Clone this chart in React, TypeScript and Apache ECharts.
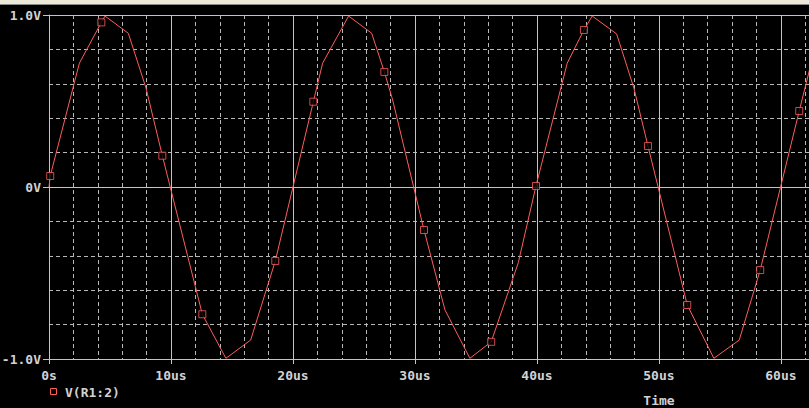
import React, { useEffect, useRef } from "react";
import * as echarts from "echarts";

// Simulation vertices (time in us, voltage in V)
const timeUs = [
  0, 0.1, 2.49, 4.29, 4.59, 6.5, 7.95, 9.29, 12.57, 14.5, 16.53, 18.55,
  21.67, 22.43, 24.56, 26.45, 27.49, 28.17, 30.74, 32.46, 34.5, 36.25, 38.47,
  39.92, 42.48, 43.85, 44.53, 46.53, 47.95, 49.1, 52.32, 54.5, 56.58, 58.3,
  61.5, 62.48,
];
const volts = [
  0, 0.064, 0.72, 0.957, 0.994, 0.894, 0.576, 0.182, -0.74, -0.996, -0.89, -0.43,
  0.496, 0.72, 0.994, 0.894, 0.669, 0.506, -0.25, -0.715, -0.996, -0.9, -0.44,
  0.006, 0.72, 0.913, 0.994, 0.89, 0.574, 0.238, -0.686, -0.996, -0.89, -0.483,
  0.442, 0.72,
];
// indices of vertices that carry a square marker
const markedIdx = [1, 3, 7, 8, 11, 12, 16, 18, 21, 23, 25, 29, 30, 33, 34];

const seriesName = "V(R1:2)";
const xTitle = "Time";

const RED = "#ff5c5c";
const TXT = "#d2d2d2";
const SOLID = "#c4c4c4";
const DASH = "#b8b8b8";
const FONT = "'DejaVu Sans Mono', monospace";

export default function App() {
  const ref = useRef<HTMLDivElement>(null);
  useEffect(() => {
    document.body.style.margin = "0";
    document.body.style.background = "#000";
    const chart = echarts.init(ref.current!, null, { renderer: "svg" });
    const lineData = timeUs.map((t, i) => [t, volts[i]]);
    const markData = markedIdx.map((i) => [timeUs[i], volts[i]]);
    const labelStyle = {
      color: TXT,
      fontFamily: FONT,
      fontWeight: "bold" as const,
      fontSize: 13,
    };
    chart.setOption({
      animation: false,
      backgroundColor: "#000",
      grid: {
        left: 49,
        top: 15,
        width: 760,
        height: 344,
        containLabel: false,
        outerBoundsMode: "none",
      },
      xAxis: [
        {
          type: "value",
          min: 0,
          max: 62.3,
          interval: 2,
          position: "bottom",
          axisLine: { show: false, onZero: false },
          axisTick: { show: false },
          axisLabel: { show: false },
          splitLine: { show: true, lineStyle: { color: DASH, type: [4, 3], width: 1 } },
        },
        {
          type: "value",
          min: 0,
          max: 62.3,
          interval: 10,
          position: "bottom",
          axisLine: { show: true, onZero: false, lineStyle: { color: SOLID, width: 1 } },
          axisTick: { show: true, inside: false, length: 5, lineStyle: { color: SOLID } },
          axisLabel: {
            ...labelStyle,
            margin: 10,
            formatter: (v: number) =>
              Math.abs(v % 10) < 1e-6 ? (v === 0 ? "0s" : `${Math.round(v)}us`) : "",
          },
          splitLine: { show: true, lineStyle: { color: SOLID, width: 1, type: "solid" } },
        },
      ],
      yAxis: [
        {
          type: "value",
          min: -1,
          max: 1,
          interval: 0.2,
          position: "left",
          axisLine: { show: false, onZero: false },
          axisTick: { show: false },
          axisLabel: { show: false },
          splitLine: { show: true, lineStyle: { color: DASH, type: [4, 3], width: 1 } },
        },
        {
          type: "value",
          min: -1,
          max: 1,
          interval: 1,
          position: "left",
          axisLine: { show: true, onZero: false, lineStyle: { color: SOLID, width: 1 } },
          axisTick: { show: true, inside: false, length: 6, lineStyle: { color: SOLID } },
          axisLabel: {
            ...labelStyle,
            margin: 8,
            formatter: (v: number) => (v > 0.5 ? "1.0V" : v < -0.5 ? "-1.0V" : "0V"),
          },
          splitLine: { show: true, lineStyle: { color: SOLID, width: 1, type: "solid" } },
        },
      ],
      series: [
        {
          name: seriesName,
          type: "line",
          xAxisIndex: 0,
          yAxisIndex: 0,
          data: lineData,
          showSymbol: false,
          symbol: "none",
          clip: true,
          lineStyle: { color: RED, width: 1 },
          itemStyle: { color: RED },
          z: 3,
        },
        {
          name: seriesName,
          type: "scatter",
          xAxisIndex: 0,
          yAxisIndex: 0,
          data: markData,
          symbol: "rect",
          symbolSize: 7,
          clip: true,
          itemStyle: { color: "#000", borderColor: RED, borderWidth: 1 },
          z: 4,
        },
      ],
      graphic: [
        { type: "rect", shape: { x: 0, y: 0, width: 809, height: 4 }, style: { fill: "#ece9d8" }, silent: true },
        { type: "line", shape: { x1: 0, y1: 4.5, x2: 809, y2: 4.5 }, style: { stroke: "#8a8a8a", lineWidth: 1 }, silent: true },
        {
          type: "rect",
          shape: { x: 50.5, y: 388.5, width: 6, height: 6 },
          style: { fill: "none", stroke: RED, lineWidth: 1 },
        },
        {
          type: "text",
          x: 65,
          y: 392,
          style: {
            text: seriesName,
            fill: TXT,
            font: `bold 13px ${FONT}`,
            textAlign: "left",
            textVerticalAlign: "middle",
          },
        },
        {
          type: "text",
          x: 659,
          y: 394,
          style: {
            text: xTitle,
            fill: TXT,
            font: `bold 13px ${FONT}`,
            textAlign: "center",
            textVerticalAlign: "top",
          },
        },
      ],
    });
    return () => chart.dispose();
  }, []);
  return <div ref={ref} style={{ width: 809, height: 408, background: "#000" }} />;
}
